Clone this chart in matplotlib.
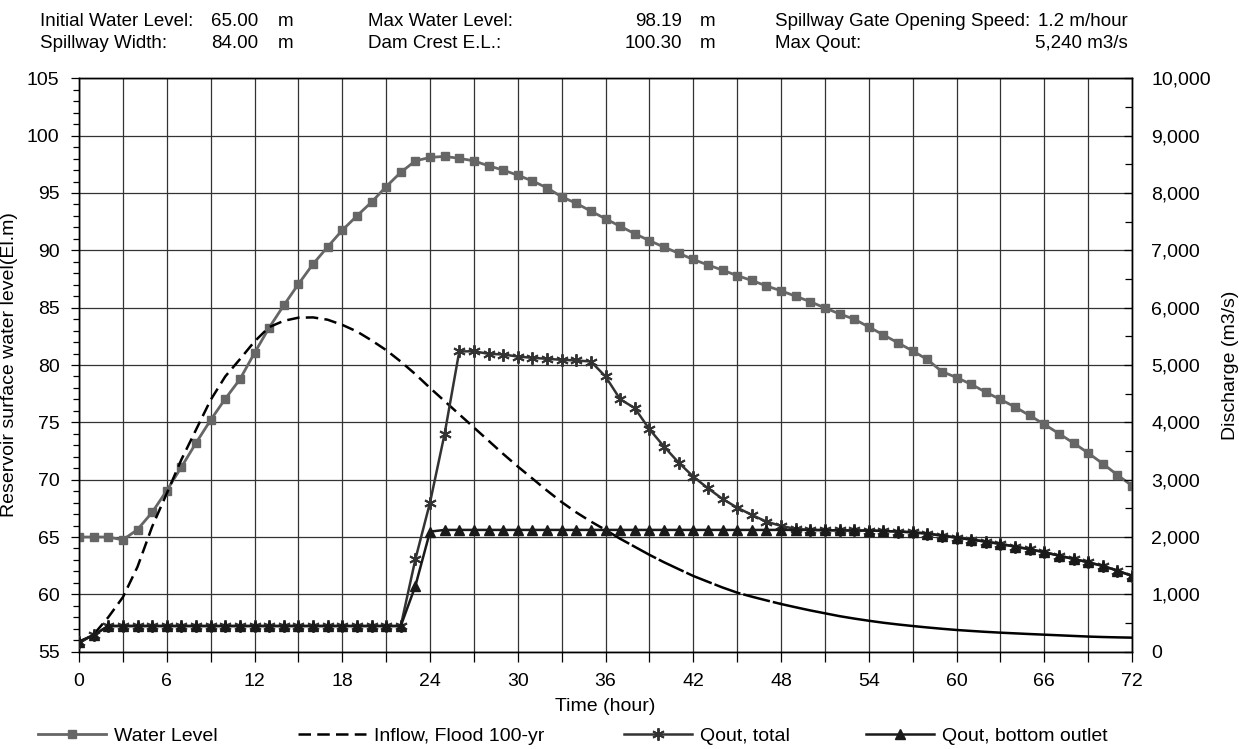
import matplotlib
matplotlib.use("Agg")
import matplotlib.pyplot as plt
from matplotlib.ticker import FuncFormatter, MultipleLocator

plt.rcParams['font.family'] = ['Liberation Sans', 'DejaVu Sans']

hours = list(range(73))

water_level = [65.0, 65.0, 65.0, 64.75, 65.65, 67.15, 69.05, 71.1, 73.2, 75.2,
               77.05, 78.75, 81.05, 83.25, 85.2, 87.05, 88.8, 90.3, 91.75, 93.0,
               94.2, 95.55, 96.8, 97.8, 98.1, 98.19, 98.02, 97.8, 97.37, 97.0,
               96.55, 96.05, 95.45, 94.67, 94.1, 93.42, 92.75, 92.1, 91.45, 90.85,
               90.28, 89.75, 89.2, 88.73, 88.27, 87.8, 87.37, 86.9, 86.47, 86.0,
               85.52, 84.98, 84.46, 84.0, 83.32, 82.63, 81.93, 81.23, 80.48, 79.43,
               78.91, 78.32, 77.63, 77.0, 76.34, 75.6, 74.83, 74.02, 73.2, 72.33,
               71.4, 70.41, 69.48]

inflow = [150, 300, 600, 950, 1480, 2180, 2760, 3350, 3870, 4390,
          4800, 5100, 5410, 5660, 5770, 5825, 5830, 5790, 5700, 5585,
          5430, 5260, 5060, 4840, 4600, 4370, 4140, 3910, 3680, 3450,
          3230, 3020, 2810, 2610, 2430, 2270, 2124, 1970, 1830, 1690,
          1560, 1440, 1321, 1220, 1120, 1030, 960, 895, 832, 775,
          720, 670, 620, 578, 540, 505, 475, 448, 423, 400,
          379, 362, 346, 332, 320, 308, 297, 286, 275, 264,
          256, 250, 245]

qout_total = [175, 290, 448, 448, 448, 448, 448, 448, 448, 448,
              448, 448, 448, 448, 448, 448, 448, 448, 448, 448,
              448, 448, 448, 1612, 2600, 3800, 5236, 5240, 5195, 5183,
              5148, 5125, 5108, 5090, 5079, 5061, 4800, 4404, 4248, 3881,
              3578, 3298, 3054, 2851, 2665, 2513, 2386, 2269, 2194, 2141,
              2124, 2120, 2116, 2114, 2112, 2106, 2095, 2083, 2060, 2025,
              1990, 1955, 1920, 1880, 1833, 1787, 1735, 1676, 1618, 1560,
              1496, 1414, 1321]

qout_bottom = [175, 290, 448, 448, 448, 448, 448, 448, 448, 448,
               448, 448, 448, 448, 448, 448, 448, 448, 448, 448,
               448, 448, 448, 1147, 2094, 2124, 2124, 2124, 2124, 2124,
               2124, 2124, 2124, 2124, 2124, 2124, 2124, 2124, 2124, 2124,
               2124, 2124, 2124, 2124, 2124, 2124, 2124, 2124, 2124, 2124,
               2124, 2120, 2116, 2114, 2112, 2106, 2095, 2083, 2060, 2025,
               1990, 1955, 1920, 1880, 1833, 1787, 1735, 1676, 1618, 1560,
               1496, 1414, 1321]

header_labels = [["Initial Water Level:", "Max Water Level:", "Spillway Gate Opening Speed:"],
                 ["Spillway Width:", "Dam Crest E.L.:", "Max Qout:"]]
header_values = [["65.00", "98.19", "1.2 m/hour"],
                 ["84.00", "100.30", "5,240 m3/s"]]
header_units = [["m", "m", ""],
                ["m", "m", ""]]

legend_labels = ["Water Level", "Inflow, Flood 100-yr", "Qout, total", "Qout, bottom outlet"]

W, H = 1239, 749
fig = plt.figure(figsize=(W / 100, H / 100), dpi=100)
ax = fig.add_axes([79 / W, 1 - 651.7 / H, 1053 / W, 573.4 / H])
ax2 = ax.twinx()

# water level on the left axis
l1, = ax.plot(hours, water_level, color='#666666', lw=2, marker='s', ms=6.3,
              mec='#666666', mfc='#666666', zorder=3)

# inflow: dashes get longer on the falling limb, like the original chart
l2, = ax2.plot(hours[:37], inflow[:37], color='black', lw=1.8, ls=(0, (5, 2.5)), zorder=2)
ax2.plot(hours[36:49], inflow[36:49], color='black', lw=1.8, ls=(0, (11, 1.2)), zorder=2)
ax2.plot(hours[48:], inflow[48:], color='black', lw=1.8, ls='-', zorder=2)

# discharges on the right axis
l3, = ax2.plot(hours, qout_total, color='#333333', lw=1.8, marker=(6, 2, 0),
               ms=9, mew=1.4, mec='#333333', zorder=3)
l4, = ax2.plot(hours, qout_bottom, color='#1a1a1a', lw=1.8, marker='^', ms=6.5,
               mec='#1a1a1a', mfc='#1a1a1a', zorder=4)

ax.set_xlim(0, 72)
ax.set_ylim(55, 105)
ax2.set_ylim(0, 10000)

ax.set_xticks(range(0, 73, 6))
ax.set_xticks(range(3, 73, 6), minor=True)
ax.yaxis.set_major_locator(MultipleLocator(5))
ax.yaxis.set_minor_locator(MultipleLocator(1))
ax2.yaxis.set_major_locator(MultipleLocator(1000))
ax2.yaxis.set_minor_locator(MultipleLocator(500))
ax2.yaxis.set_major_formatter(FuncFormatter(lambda v, p: f"{int(v):,}"))

ax.grid(True, which='both', axis='x', color='#333333', lw=0.9)
ax.grid(True, which='major', axis='y', color='#333333', lw=0.9)
ax.set_axisbelow(True)

ax.tick_params(axis='x', which='both', direction='out', length=7, width=0.9,
               pad=8, labelsize=14)
ax.tick_params(axis='y', which='major', direction='out', length=6, width=0.9,
               pad=8, labelsize=14)
ax.tick_params(axis='y', which='minor', direction='out', length=4, width=0.9)
ax2.tick_params(axis='y', which='major', direction='in', length=6, width=0.9,
                pad=14, labelsize=14)
ax2.tick_params(axis='y', which='minor', direction='in', length=5, width=0.9)

for a in (ax, ax2):
    for s in a.spines.values():
        s.set_color('black')
        s.set_linewidth(1)

ax.set_xlabel("Time (hour)", fontsize=14, labelpad=6)
ax.set_ylabel("Reservoir surface water level(El.m)", fontsize=14)
ax.yaxis.set_label_coords(-61 / 1053, 0.5)
ax2.set_ylabel("Discharge (m3/s)", fontsize=14, rotation=90)
ax2.yaxis.set_label_coords((1222 - 79) / 1053, 0.5)

# header block
label_x = [40, 368, 775]
value_x = [258, 682, 1128]
unit_x = [278, 700]
row_y = [21, 43]
for r in range(2):
    y = 1 - row_y[r] / H
    for c in range(3):
        fig.text(label_x[c] / W, y, header_labels[r][c], fontsize=13.5, va='center')
        fig.text(value_x[c] / W, y, header_values[r][c], fontsize=13.5, va='center', ha='right')
        if header_units[r][c]:
            fig.text(unit_x[c] / W, y, header_units[r][c], fontsize=13.5, va='center')

# legend entries placed one by one along the bottom
leg_x = [38, 298, 624, 866]
for h, lab, x in zip([l1, l2, l3, l4], legend_labels, leg_x):
    fig.legend([h], [lab], loc='center left', bbox_to_anchor=(x / W, 1 - 736 / H),
               frameon=False, fontsize=14, handlelength=3.5, handletextpad=0.4,
               borderpad=0, borderaxespad=0)

fig.savefig("out.png", dpi=100)
